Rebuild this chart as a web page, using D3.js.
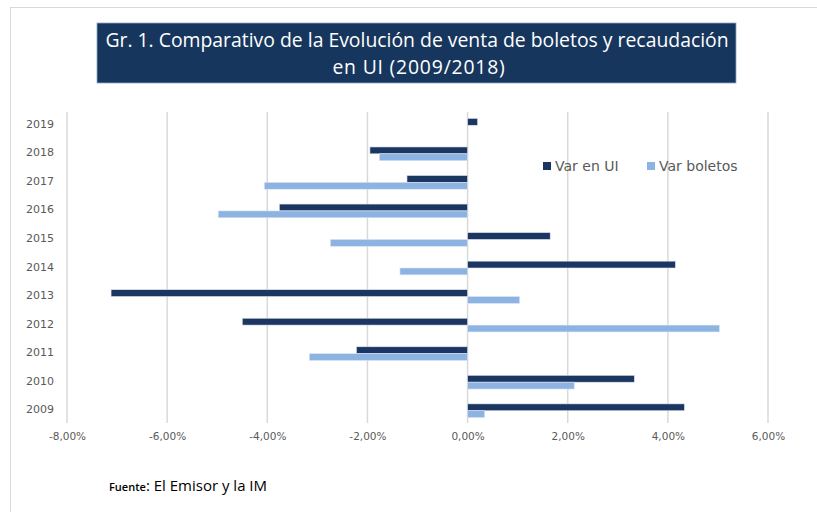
<!DOCTYPE html>
<html>
<head>
<meta charset="utf-8">
<script src="https://cdn.jsdelivr.net/npm/d3@7"></script>
<style>
  html, body { margin: 0; padding: 0; background: #ffffff; }
  svg { display: block; }
</style>
</head>
<body>
<svg id="chart" width="817" height="512"></svg>
<script>
// Years, top to bottom as they appear on the vertical axis
const years = ["2019", "2018", "2017", "2016", "2015", "2014", "2013", "2012", "2011", "2010", "2009"];
// Annual variation, in percent
const varUI = [0.20, -1.95, -1.21, -3.76, 1.65, 4.15, -7.12, -4.50, -2.22, 3.33, 4.33];
const varBoletos = [0.00, -1.76, -4.06, -4.98, -2.74, -1.35, 1.04, 5.03, -3.16, 2.13, 0.34];
const seriesNames = ["Var en UI", "Var boletos"];
const xTicks = [-8, -6, -4, -2, 0, 2, 4, 6];
const titleLines = ["Gr. 1. Comparativo de la Evolución de venta de boletos y recaudación", "en UI (2009/2018)"];

const colors = ["#1b3660", "#8db3e2"];
const gray = "#595959";

const svg = d3.select("#chart");

// outer frame (top and left edges)
svg.append("line").attr("x1", 10).attr("x2", 817).attr("y1", 7.5).attr("y2", 7.5)
  .attr("stroke", "#d9d9d9").attr("stroke-width", 1);
svg.append("line").attr("x1", 10.5).attr("x2", 10.5).attr("y1", 7).attr("y2", 512)
  .attr("stroke", "#d9d9d9").attr("stroke-width", 1);

// title box
svg.append("rect").attr("x", 97).attr("y", 23).attr("width", 639).attr("height", 60)
  .attr("fill", "#17365d").attr("stroke", "#8ea9c8").attr("stroke-width", 0.8);
const t1 = svg.append("text").attr("x", 417).attr("y", 47).attr("text-anchor", "middle")
  .attr("fill", "#ffffff").attr("font-family", "Open Sans").attr("font-size", 17.5)
  .text(titleLines[0]);
const w = t1.node().getComputedTextLength();
const fs = 17.5 * 624 / w;
t1.attr("font-size", fs);
svg.append("text").attr("x", 419).attr("y", 74).attr("text-anchor", "middle")
  .attr("fill", "#ffffff").attr("font-family", "Open Sans").attr("font-size", fs)
  .attr("letter-spacing", 0.8)
  .text(titleLines[1]);

// scales
const x = d3.scaleLinear().domain([-8, 6]).range([67, 768]);
const y0 = d3.scaleBand().domain(years).range([111, 425]).paddingInner(0.52).paddingOuter(0.26);
const y1 = d3.scaleBand().domain(seriesNames).range([0, y0.bandwidth()]);

// vertical gridlines
svg.append("g").selectAll("line").data(xTicks).join("line")
  .attr("x1", d => x(d)).attr("x2", d => x(d))
  .attr("y1", 112).attr("y2", 423)
  .attr("stroke", "#d9d9d9").attr("stroke-width", 1.5);

// category axis labels
const yAxis = d3.axisLeft(d3.scalePoint().domain(years).range([y0(years[0]) + y0.bandwidth() / 2 - 1.5, y0(years[years.length - 1]) + y0.bandwidth() / 2 - 1.5]))
  .tickSize(0).tickPadding(13);
const ya = svg.append("g").attr("transform", "translate(67,0)").call(yAxis);
ya.select(".domain").remove();
ya.selectAll("text").attr("font-family", "DejaVu Sans").attr("font-size", 11).attr("fill", gray);

// value axis labels (plain hyphen for negatives)
const fmt = d => (d < 0 ? "-" : "") + d3.format(".2f")(Math.abs(d)).replace(".", ",") + "%";
const xa = svg.append("g").attr("transform", "translate(0,423)")
  .call(d3.axisBottom(x).tickValues(xTicks).tickFormat(fmt).tickSize(0).tickPadding(10));
xa.select(".domain").remove();
xa.selectAll("text").attr("font-family", "DejaVu Sans").attr("font-size", 10.5).attr("fill", gray);

// bars
const rows = years.map((yr, i) => ({ year: yr, vals: [varUI[i], varBoletos[i]] }));
const groups = svg.append("g").selectAll("g").data(rows).join("g")
  .attr("transform", d => `translate(0,${y0(d.year)})`);
groups.selectAll("rect").data(d => d.vals.map((v, k) => ({ v, k }))).join("rect")
  .attr("x", d => x(Math.min(0, d.v)))
  .attr("width", d => Math.abs(x(d.v) - x(0)))
  .attr("y", d => y1(seriesNames[d.k]))
  .attr("height", y1.bandwidth())
  .attr("fill", d => colors[d.k])
  .attr("stroke", d => d.v === 0 ? "none" : "#dbe5f1")
  .attr("stroke-width", 0.6);

// legend
const legendX = [543, 647];
const legend = svg.append("g").selectAll("g").data(seriesNames).join("g")
  .attr("transform", (d, i) => `translate(${legendX[i]},162)`);
legend.append("rect").attr("width", 8).attr("height", 8).attr("fill", (d, i) => colors[i]);
legend.append("text").attr("x", 12).attr("y", 9)
  .attr("font-family", "DejaVu Sans").attr("font-size", 14).attr("fill", gray)
  .text(d => d);

// source note
const src = svg.append("text").attr("x", 109).attr("y", 491).attr("fill", "#000000")
  .attr("font-family", "Open Sans");
src.append("tspan").attr("font-size", 11).attr("font-weight", "600").text("Fuente");
src.append("tspan").attr("font-size", 15).text(": El Emisor y la IM");
</script>
</body>
</html>
